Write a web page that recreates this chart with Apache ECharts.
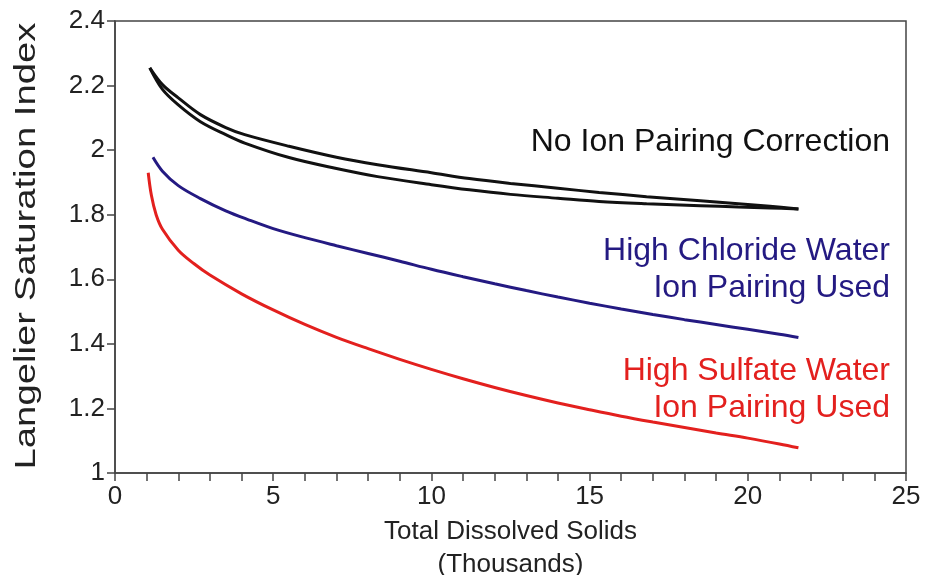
<!DOCTYPE html>
<html>
<head>
<meta charset="utf-8">
<script src="https://cdn.jsdelivr.net/npm/echarts@6/dist/echarts.min.js"></script>
<style>
  html, body { margin: 0; padding: 0; background: #fff; }
  #chart { width: 927px; height: 575px; }
</style>
</head>
<body>
<div id="chart"></div>
<script>
// TDS in thousands, LSI values
const noPairUpper = [
  [1.1, 2.255], [1.5, 2.203], [2, 2.162], [2.7, 2.11], [3.5, 2.07], [4.1, 2.048],
  [5.5, 2.012], [7, 1.978], [8.3, 1.955], [10, 1.93], [11.2, 1.912], [12.5, 1.897],
  [14, 1.882], [15.3, 1.869], [16.8, 1.856], [18.5, 1.843], [19.7, 1.834], [20.7, 1.826], [21.6, 1.818]
]
const noPairLower = [
  [1.1, 2.255], [1.5, 2.188], [2, 2.14], [2.7, 2.088], [3.5, 2.048], [4.1, 2.022],
  [5.5, 1.977], [7, 1.943], [8.3, 1.918], [10, 1.893], [11.2, 1.877], [12.5, 1.863],
  [14, 1.851], [15.3, 1.841], [16.8, 1.834], [18.5, 1.828], [19.7, 1.824], [20.7, 1.821], [21.6, 1.818]
]
const chloride = [
  [1.2, 1.978], [1.5, 1.935], [2, 1.89], [2.7, 1.85], [3.5, 1.812], [4.2, 1.785], [5, 1.757],
  [6, 1.729], [7, 1.704], [8, 1.68], [9, 1.656], [10, 1.631], [11, 1.608], [12, 1.586],
  [13, 1.565], [14, 1.545], [15, 1.526], [16, 1.508], [17, 1.491], [18, 1.475],
  [19, 1.46], [20, 1.445], [21, 1.43], [21.6, 1.42]
]
const sulfate = [
  [1.05, 1.93], [1.15, 1.86], [1.3, 1.8], [1.5, 1.755], [2, 1.69], [2.5, 1.648], [3, 1.613],
  [4, 1.555], [5, 1.505], [6, 1.46], [7, 1.42], [8, 1.385], [9, 1.352], [10, 1.321],
  [11, 1.292], [12, 1.265], [13, 1.24], [14, 1.217], [15, 1.196], [16, 1.176],
  [17, 1.158], [18, 1.141], [19, 1.124], [20, 1.108], [21, 1.09], [21.6, 1.078]
]

const BLACK = '#111111'
const NAVY = '#241a82'
const RED = '#e3201e'
const AXIS = '#444444'
const FONT = '"Liberation Sans", Arial, sans-serif'

const chart = echarts.init(document.getElementById('chart'))

const lineSeries = (data, color) => ({
  type: 'line',
  data: data,
  smooth: 0.35,
  showSymbol: false,
  silent: true,
  lineStyle: { color: color, width: 3 }
})

chart.setOption({
  animation: false,
  backgroundColor: '#ffffff',
  grid: {
    left: 115, right: 21, top: 21, bottom: 102,
    outerBoundsMode: 'none',
    containLabel: false,
    show: true, borderColor: AXIS, borderWidth: 1.5
  },
  xAxis: {
    type: 'value',
    min: 0, max: 25, interval: 5,
    name: 'Total Dissolved Solids\n(Thousands)',
    nameLocation: 'middle',
    nameGap: 38,
    nameTextStyle: { fontFamily: FONT, fontSize: 26, color: '#222', lineHeight: 33, verticalAlign: 'top' },
    axisLine: { lineStyle: { color: AXIS, width: 1.5 } },
    axisTick: { inside: false, length: 8, lineStyle: { color: AXIS, width: 1.5 } },
    minorTick: { show: true, splitNumber: 5, length: 8, lineStyle: { color: AXIS, width: 1.5 } },
    axisLabel: { fontFamily: FONT, fontSize: 26, color: '#222', margin: 11 },
    splitLine: { show: false }
  },
  yAxis: {
    type: 'value',
    min: 1, max: 2.4, interval: 0.2,
    axisLine: { lineStyle: { color: AXIS, width: 1.5 } },
    axisTick: { inside: false, length: 8, lineStyle: { color: AXIS, width: 1.5 } },
    axisLabel: {
      fontFamily: FONT, fontSize: 26, color: '#222', margin: 10,
      formatter: v => String(+v.toFixed(1))
    },
    splitLine: { show: false }
  },
  series: [
    lineSeries(noPairUpper, BLACK),
    lineSeries(noPairLower, BLACK),
    lineSeries(chloride, NAVY),
    lineSeries(sulfate, RED)
  ],
  graphic: [
    {
      // y axis title, stretched along its length like the original
      type: 'text', x: 27, y: 246, rotation: Math.PI / 2, scaleX: 1.32,
      style: {
        text: 'Langelier Saturation Index', fill: '#222', font: '29px ' + FONT,
        textAlign: 'center', textVerticalAlign: 'middle'
      }
    },
    {
      type: 'text', right: 37, top: 126,
      style: { text: 'No Ion Pairing Correction', fill: BLACK, font: '32px ' + FONT, textAlign: 'right' }
    },
    {
      type: 'text', right: 37, top: 233,
      style: { text: 'High Chloride Water\nIon Pairing Used', fill: NAVY, font: '32px ' + FONT, textAlign: 'right', lineHeight: 37 }
    },
    {
      type: 'text', right: 37, top: 353,
      style: { text: 'High Sulfate Water\nIon Pairing Used', fill: RED, font: '32px ' + FONT, textAlign: 'right', lineHeight: 37 }
    }
  ]
})
</script>
</body>
</html>
